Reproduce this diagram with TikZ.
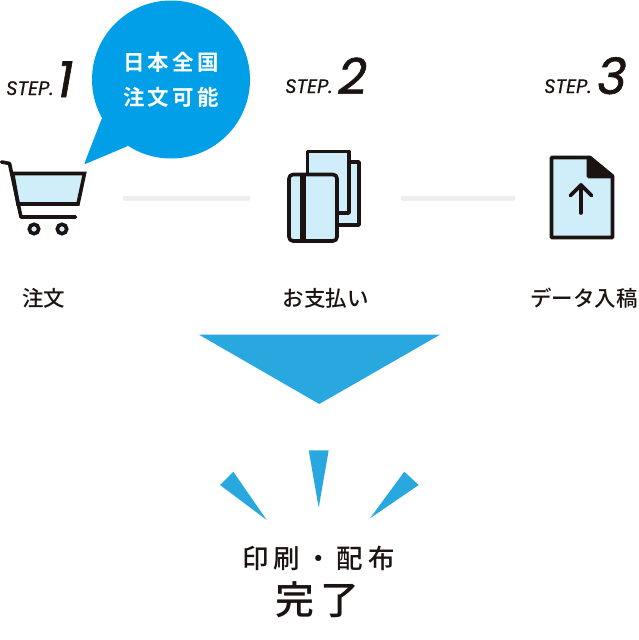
\documentclass[tikz,border=0pt]{standalone}
\usepackage{fontspec}
\setmainfont{Noto Sans CJK JP}
\newfontfamily\stepfont[FakeBold=0.6]{Poppins}
\newfontfamily\numfont[FakeBold=1.2]{Poppins}
\newfontfamily\medfont{Noto Sans CJK JP Medium}
\newfontfamily\wideA[LetterSpace=15]{Noto Sans CJK JP Bold}
\newfontfamily\wideB[LetterSpace=19]{Noto Sans CJK JP Medium}
\newfontfamily\wideC[LetterSpace=16]{Noto Sans CJK JP Medium}
\definecolor{inkblack}{HTML}{1A1311}
\definecolor{skyblue}{HTML}{29A8E0}
\definecolor{bubbleblue}{HTML}{009FE8}
\definecolor{paleblue}{HTML}{D0EDFA}
\definecolor{bargray}{HTML}{EDEEEE}
\tikzset{
 icon/.style={draw=inkblack,line width=3.6pt,line join=round,fill=paleblue},
 ink/.style={draw=inkblack,line width=3.6pt,line join=round,line cap=round},
 bar/.style={draw=bargray,line width=5pt,line cap=round},
 ray/.style={fill=skyblue},
 steplabel/.style={inkblack,inner sep=0pt,anchor=base west,font=\stepfont\itshape\fontsize{19.5}{19.5}\selectfont},
 stepnum/.style={inkblack,inner sep=0pt,anchor=base west,font=\numfont\itshape\fontsize{50}{50}\selectfont},
 caption/.style={inkblack,inner sep=0pt,font=\medfont\fontsize{21.5}{21.5}\selectfont},
}
\begin{document}
\begin{tikzpicture}[x=1pt,y=-1pt]
 \useasboundingbox (0,0) rectangle (639,640);
 % speech bubble
 \fill[bubbleblue] (171,79.5) circle[radius=79];
 \fill[bubbleblue,rounded corners=1.5pt] (102,118) -- (84,164.5) -- (128,146) -- (140,100) -- cycle;
 \node[white,inner sep=0pt,align=center,font=\wideA\fontsize{21.5}{35}\selectfont] (area) at (171,80) {日本全国\\注文可能};
 % step labels
 \node[steplabel] (stepa) at (6,95) {STEP.};
 \node[stepnum] (numa) at (57,97) {1};
 \node[steplabel] (stepb) at (285,93) {STEP.};
 \node[stepnum] (numb) at (338,94) {2};
 \node[steplabel] (stepc) at (544,93) {STEP.};
 \node[stepnum] (numc) at (597,94) {3};
 % cart
 \draw[icon,line join=miter] (12.7,173.5) -- (84.5,173.5) -- (78,204) -- (18,204) -- cycle;
 \draw[ink] (1.5,162) -- (9.5,163.5) -- (21,217) -- (75.5,217);
 \draw[draw=inkblack,line width=3.6pt,fill=paleblue] (34,229) circle[radius=4.7];
 \draw[draw=inkblack,line width=3.6pt,fill=paleblue] (62,229) circle[radius=4.7];
 % cards
 \draw[icon] (345,162) -- (359,162) -- (359,225) -- (330,225) -- (330,200) -- cycle;
 \draw[icon] (307.5,151.5) -- (349,151.5) -- (349,213) -- (307.5,213) -- cycle;
 \draw[icon,rounded corners=4pt] (289,174.5) rectangle (337,241);
 \fill[inkblack] (299.5,175) rectangle (305.5,241);
 % upload file
 \draw[icon] (551.5,157.5) -- (590,157.5) -- (612.5,176) -- (612.5,237.5) -- (551.5,237.5) -- cycle;
 \draw[ink,fill=inkblack] (588.5,157.5) -- (612.5,176.5) -- (588.5,176.5) -- cycle;
 \draw[ink] (581,213) -- (581,185);
 \draw[ink] (570.5,195.5) -- (581,185) -- (591.5,195.5);
 % connecting bars
 \coordinate (bara) at (125,198);
 \coordinate (barb) at (248,198);
 \coordinate (barc) at (403,198);
 \coordinate (bard) at (513,198);
 \draw[bar] (bara) -- (barb);
 \draw[bar] (barc) -- (bard);
 % captions
 \node[caption] (order) at (43.5,298) {注文};
 \node[caption] (pay) at (325.5,298) {お支払い};
 \node[caption] (upload) at (584,298) {データ入稿};
 % arrow and rays
 \fill[ray] (199,334.7) -- (440,334.7) -- (319.3,404) -- cycle;
 \fill[ray] (308.7,450.3) -- (328.7,450.3) -- (318.7,507.7) -- cycle;
 \fill[ray] (233.3,471.7) -- (220,485) -- (266.7,520) -- cycle;
 \fill[ray] (404.3,471.7) -- (418.7,485) -- (370,518.3) -- cycle;
 % result
 \node[inkblack,inner sep=0pt,font=\wideB\fontsize{26.5}{26.5}\selectfont] (done) at (318.5,558) {印刷・配布};
 \node[inkblack,inner sep=0pt,font=\wideC\fontsize{39}{39}\selectfont] (finish) at (317.5,600) {完了};
\end{tikzpicture}
\end{document}
